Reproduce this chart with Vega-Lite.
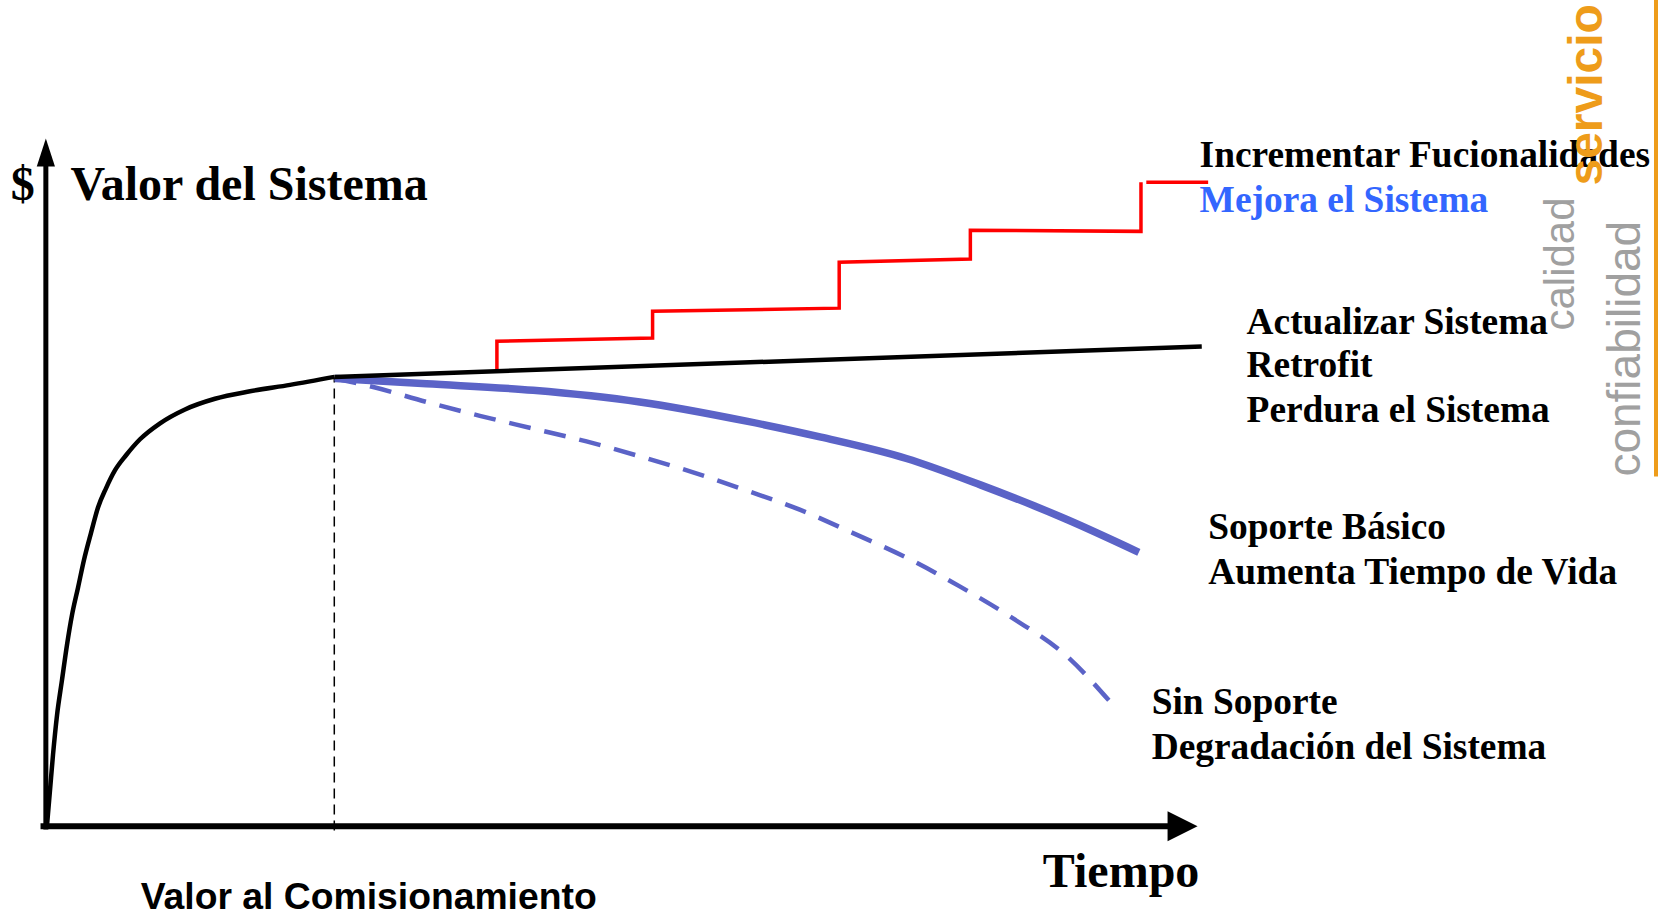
{
  "$schema": "https://vega.github.io/schema/vega-lite/v6.json",
  "width": 1672,
  "height": 918,
  "autosize": "none",
  "padding": 0,
  "background": "white",
  "config": {"view": {"stroke": null}},
  "datasets": {
    "yaxis": [{"t": 0, "v": -3}, {"t": 0, "v": 622}],
    "xaxis": [{"t": -5, "v": 0}, {"t": 1054, "v": 0}],
    "yarrow": [{"t": 0, "v": 632}],
    "xarrow": [{"t": 1066, "v": 0}],
    "comm": [{"t": 270.5, "v": -4}, {"t": 270.5, "v": 421}],
    "growth": [
      {"t": 1, "v": 0}, {"t": 3.9, "v": 34}, {"t": 6.7, "v": 67}, {"t": 10.5, "v": 104.5},
      {"t": 15.1, "v": 137}, {"t": 19.8, "v": 170}, {"t": 24.5, "v": 198}, {"t": 30.2, "v": 224},
      {"t": 35.8, "v": 250}, {"t": 42.3, "v": 275}, {"t": 48.9, "v": 299}, {"t": 56.4, "v": 317},
      {"t": 64.9, "v": 334}, {"t": 75.2, "v": 348}, {"t": 88.3, "v": 363}, {"t": 107.1, "v": 378},
      {"t": 130.5, "v": 391}, {"t": 158.6, "v": 401}, {"t": 191.5, "v": 408}, {"t": 229, "v": 414},
      {"t": 270.5, "v": 421.5}
    ],
    "upgrade": [{"t": 270.5, "v": 421.5}, {"t": 1084, "v": 450}],
    "functions": [
      {"i": 1, "t": 423, "v": 427}, {"i": 2, "t": 423, "v": 455}, {"i": 3, "t": 569, "v": 458},
      {"i": 4, "t": 569, "v": 483}, {"i": 5, "t": 744, "v": 486}, {"i": 6, "t": 744, "v": 529},
      {"i": 7, "t": 867, "v": 532}, {"i": 8, "t": 867, "v": 559}, {"i": 9, "t": 1027, "v": 558},
      {"i": 10, "t": 1027, "v": 604}
    ],
    "functionsTop": [{"t": 1032, "v": 604}, {"t": 1090, "v": 604}],
    "basic": [
      {"t": 271, "v": 420}, {"t": 357, "v": 415}, {"t": 457, "v": 409}, {"t": 557, "v": 398},
      {"t": 657, "v": 380}, {"t": 727, "v": 365}, {"t": 807, "v": 345}, {"t": 877, "v": 320},
      {"t": 957, "v": 288}, {"t": 1025, "v": 257}
    ],
    "none": [
      {"t": 271, "v": 420}, {"t": 307, "v": 412}, {"t": 357, "v": 398}, {"t": 407, "v": 385},
      {"t": 457, "v": 373}, {"t": 507, "v": 361}, {"t": 557, "v": 347}, {"t": 607, "v": 332},
      {"t": 657, "v": 315}, {"t": 707, "v": 297}, {"t": 757, "v": 275}, {"t": 807, "v": 252},
      {"t": 857, "v": 225}, {"t": 907, "v": 195}, {"t": 957, "v": 160}, {"t": 997, "v": 118}
    ],
    "orangeLine": [{"t": 1510, "v": 775}, {"t": 1510, "v": 328}],
    "labels": [
      {"t": 1082, "v": 618, "label": "Incrementar Fucionalidades"},
      {"t": 1126, "v": 462, "label": "Actualizar Sistema"},
      {"t": 1126, "v": 421, "label": "Retrofit"},
      {"t": 1126, "v": 379, "label": "Perdura el Sistema"},
      {"t": 1090, "v": 269, "label": "Soporte Básico"},
      {"t": 1090, "v": 227, "label": "Aumenta Tiempo de Vida"},
      {"t": 1037, "v": 105, "label": "Sin Soporte"},
      {"t": 1037, "v": 63, "label": "Degradación del Sistema"}
    ],
    "blueLabel": [{"t": 1082, "v": 576, "label": "Mejora el Sistema"}],
    "titles": [
      {"t": -33, "v": 587, "label": "$"},
      {"t": 23, "v": 587, "label": "Valor del Sistema"},
      {"t": 935, "v": -57, "label": "Tiempo"}
    ],
    "commLabel": [{"t": 89, "v": -78, "label": "Valor al Comisionamiento"}],
    "servicio": [{"t": 1459, "v": 601, "label": "servicio"}],
    "calidad": [{"t": 1433, "v": 465, "label": "calidad"}],
    "confiabilidad": [{"t": 1495, "v": 328, "label": "confiabilidad"}]
  },
  "encoding": {
    "x": {"field": "t", "type": "quantitative", "scale": {"domain": [-43, 1525], "nice": false, "zero": false}, "axis": null},
    "y": {"field": "v", "type": "quantitative", "scale": {"domain": [-86, 775], "nice": false, "zero": false}, "axis": null}
  },
  "layer": [
    {"data": {"name": "comm"}, "mark": {"type": "line", "color": "black", "strokeWidth": 1.5, "strokeDash": [10, 6]}},
    {"data": {"name": "none"}, "mark": {"type": "line", "color": "#5b63c7", "strokeWidth": 4.5, "strokeDash": [22, 14], "interpolate": "monotone"}},
    {"data": {"name": "basic"}, "mark": {"type": "line", "color": "#5b63c7", "strokeWidth": 7.5, "interpolate": "monotone"}},
    {"data": {"name": "functions"}, "mark": {"type": "line", "color": "#ff0000", "strokeWidth": 3.5}, "encoding": {"order": {"field": "i", "type": "quantitative"}}},
    {"data": {"name": "functionsTop"}, "mark": {"type": "line", "color": "#ff0000", "strokeWidth": 3.5}},
    {"data": {"name": "growth"}, "mark": {"type": "line", "color": "black", "strokeWidth": 4.5, "interpolate": "monotone"}},
    {"data": {"name": "upgrade"}, "mark": {"type": "line", "color": "black", "strokeWidth": 4.5}},
    {"data": {"name": "yaxis"}, "mark": {"type": "line", "color": "black", "strokeWidth": 5}},
    {"data": {"name": "xaxis"}, "mark": {"type": "line", "color": "black", "strokeWidth": 6}},
    {"data": {"name": "yarrow"}, "mark": {"type": "point", "shape": "M-0.65,1L0,-1L0.65,1Z", "filled": true, "color": "black", "opacity": 1, "size": 784, "strokeWidth": 0}},
    {"data": {"name": "xarrow"}, "mark": {"type": "point", "shape": "M-1,-1L1,0L-1,1Z", "filled": true, "color": "black", "opacity": 1, "size": 900, "strokeWidth": 0}},
    {"data": {"name": "orangeLine"}, "mark": {"type": "line", "color": "#ee9c1a", "strokeWidth": 4}},
    {"data": {"name": "labels"}, "mark": {"type": "text", "align": "left", "baseline": "alphabetic", "font": "Liberation Serif", "fontWeight": "bold", "fontSize": 37.4, "color": "black"}, "encoding": {"text": {"field": "label", "type": "nominal"}}},
    {"data": {"name": "blueLabel"}, "mark": {"type": "text", "align": "left", "baseline": "alphabetic", "font": "Liberation Serif", "fontWeight": "bold", "fontSize": 37.4, "color": "#3366ff"}, "encoding": {"text": {"field": "label", "type": "nominal"}}},
    {"data": {"name": "titles"}, "mark": {"type": "text", "align": "left", "baseline": "alphabetic", "font": "Liberation Serif", "fontWeight": "bold", "fontSize": 48, "color": "black"}, "encoding": {"text": {"field": "label", "type": "nominal"}}},
    {"data": {"name": "commLabel"}, "mark": {"type": "text", "align": "left", "baseline": "alphabetic", "font": "Liberation Sans", "fontWeight": "bold", "fontSize": 37.3, "color": "black"}, "encoding": {"text": {"field": "label", "type": "nominal"}}},
    {"data": {"name": "servicio"}, "mark": {"type": "text", "align": "left", "baseline": "alphabetic", "angle": 270, "font": "Liberation Sans", "fontWeight": "bold", "fontSize": 48, "color": "#ee9c1a"}, "encoding": {"text": {"field": "label", "type": "nominal"}}},
    {"data": {"name": "calidad"}, "mark": {"type": "text", "align": "left", "baseline": "alphabetic", "angle": 270, "font": "Liberation Sans", "fontSize": 42, "color": "#a0a0a0"}, "encoding": {"text": {"field": "label", "type": "nominal"}}},
    {"data": {"name": "confiabilidad"}, "mark": {"type": "text", "align": "left", "baseline": "alphabetic", "angle": 270, "font": "Liberation Sans", "fontSize": 46, "color": "#a0a0a0"}, "encoding": {"text": {"field": "label", "type": "nominal"}}}
  ]
}
